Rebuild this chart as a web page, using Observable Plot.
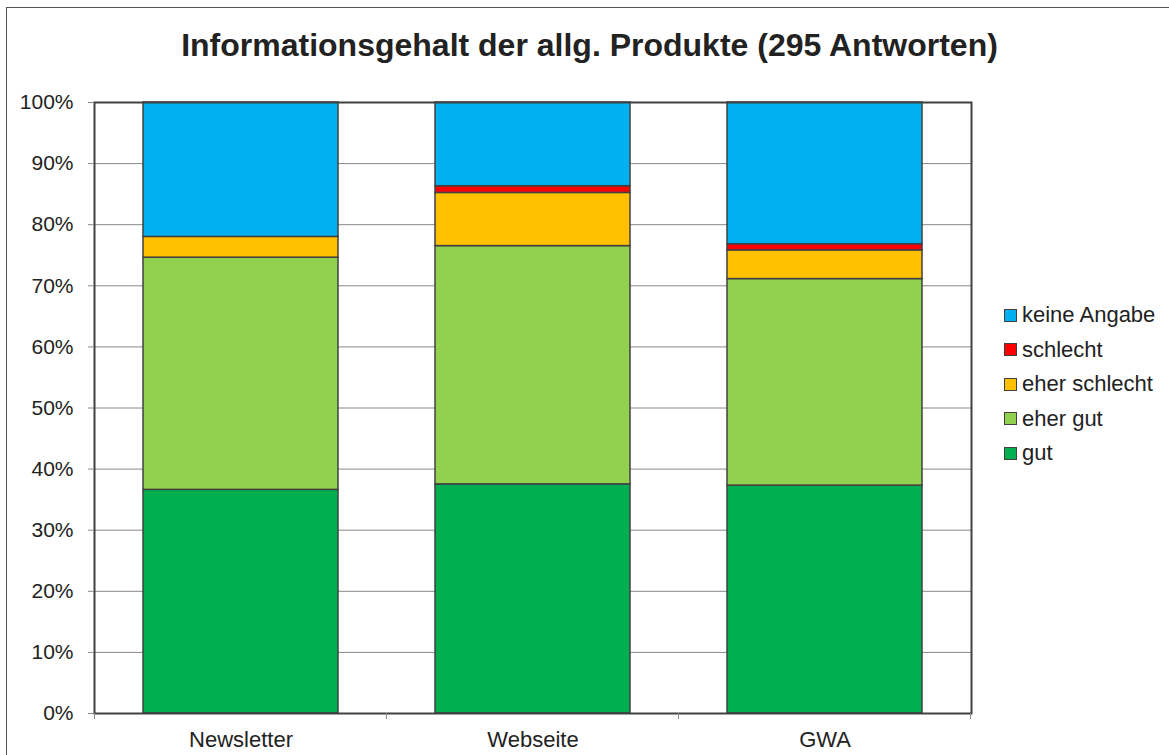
<!DOCTYPE html>
<html>
<head>
<meta charset="utf-8">
<script src="https://cdn.jsdelivr.net/npm/d3@7"></script>
<script src="https://cdn.jsdelivr.net/npm/@observablehq/plot@0.6"></script>
<style>
  html, body { margin: 0; padding: 0; background: #fff; overflow: hidden; }
  body { width: 1169px; height: 755px; position: relative; font-family: "Liberation Sans", Arial, sans-serif; }
  #border { position: absolute; left: 6px; top: 7px; width: 1200px; height: 800px; border: 1px solid #555; box-sizing: border-box; }
  #title { position: absolute; left: 0; top: 0; width: 1179px; height: 90px; display: flex; align-items: center; justify-content: center; font-weight: bold; font-size: 32px; color: #222; }
  #chart { position: absolute; left: 0; top: 90px; }
  #legend { position: absolute; left: 1004px; top: 298px; font-size: 22px; color: #222; }
  .row { height: 34.5px; display: flex; align-items: center; }
  .sw { width: 11px; height: 11px; border: 1px solid #404040; margin-right: 5px; flex: none; }
</style>
</head>
<body>
<div id="border"></div>
<div id="title">Informationsgehalt der allg. Produkte (295 Antworten)</div>
<div id="chart"></div>
<div id="legend"></div>
<script>
const categories = ["Newsletter", "Webseite", "GWA"];
const series = ["gut", "eher gut", "eher schlecht", "schlecht", "keine Angabe"];
const colors = ["#00B050", "#92D050", "#FFC000", "#FF0000", "#00B0F0"];
const gut = [36.6, 37.5, 37.3];
const eherGut = [38.0, 39.0, 33.8];
const eherSchlecht = [3.4, 8.7, 4.7];
const schlecht = [0, 1.1, 1.0];
const keineAngabe = [22.0, 13.7, 23.2];
const yTicks = [0, 10, 20, 30, 40, 50, 60, 70, 80, 90, 100];

const valuesBySeries = [gut, eherGut, eherSchlecht, schlecht, keineAngabe];
const data = [];
series.forEach((s, i) => {
  categories.forEach((c, j) => {
    data.push({category: c, series: s, value: valuesBySeries[i][j]});
  });
});
const drawn = data.filter(d => d.value > 0);

const chart = Plot.plot({
  width: 1169,
  height: 665,
  marginTop: 12,
  marginLeft: 94,
  marginRight: 198,
  marginBottom: 42,
  style: {fontFamily: "'Liberation Sans', Arial, sans-serif", fontSize: "21px", color: "#222", background: "transparent", overflow: "visible"},
  x: {domain: categories, paddingInner: 0.333, paddingOuter: 0.1667, label: null},
  y: {domain: [0, 100], label: null},
  color: {domain: series, range: colors},
  marks: [
    Plot.gridY(yTicks, {stroke: "#888", strokeOpacity: 1, strokeWidth: 1}),
    Plot.barY(drawn, Plot.stackY({x: "category", y: "value", z: "series", order: series, fill: "series", stroke: "#404040", strokeWidth: 1.5, insetLeft: 0, insetRight: 0})),
    Plot.frame({stroke: "#404040", strokeWidth: 2}),
    Plot.axisY(yTicks, {tickSize: 6, tickPadding: 15, tickFormat: d => d + "%", stroke: "#888", strokeOpacity: 1, label: null}),
    Plot.axisX({tickSize: 0, tickPadding: 18, fontSize: 22, label: null})
  ]
});
document.getElementById("chart").appendChild(chart);

// category boundary tick marks on the x axis, from the band scale
const xs = chart.scale("x");
const ys = chart.scale("y");
const gap = (xs.step - xs.bandwidth) / 2;
const bounds = categories.map(c => xs.apply(c) - gap);
bounds.push(xs.apply(categories[categories.length - 1]) + xs.bandwidth + gap);
const y0 = ys.apply(0);
d3.select(chart).append("g")
  .selectAll("line").data(bounds).join("line")
  .attr("x1", d => d).attr("x2", d => d)
  .attr("y1", y0).attr("y2", y0 + 6)
  .attr("stroke", "#888");

// legend
const legend = d3.select("#legend");
series.slice().reverse().forEach(s => {
  const row = legend.append("div").attr("class", "row");
  row.append("div").attr("class", "sw").style("background", colors[series.indexOf(s)]);
  row.append("span").text(s);
});
</script>
</body>
</html>
